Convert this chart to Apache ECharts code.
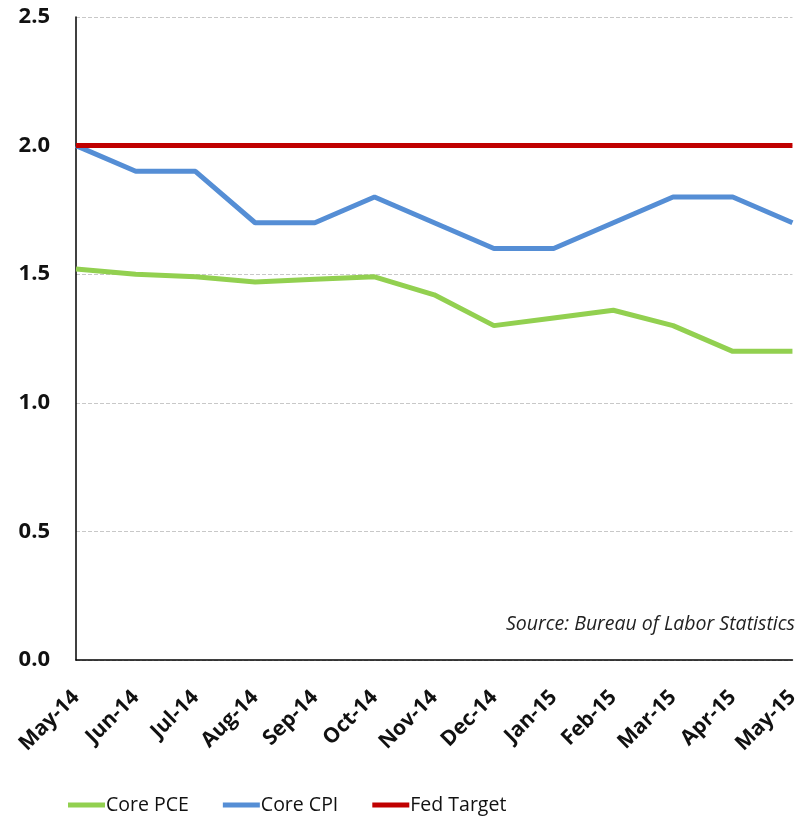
<!DOCTYPE html>
<html><head><meta charset="utf-8">
<script src="https://cdn.jsdelivr.net/npm/echarts@6/dist/echarts.min.js"></script>
<style>html,body{margin:0;padding:0;background:#fff}#c{width:802px;height:816px}</style>
</head><body><div id="c"></div>
<script>
const categories = ['May-14','Jun-14','Jul-14','Aug-14','Sep-14','Oct-14','Nov-14','Dec-14','Jan-15','Feb-15','Mar-15','Apr-15','May-15'];
const corePCE = [1.52,1.50,1.49,1.47,1.48,1.49,1.42,1.30,1.33,1.36,1.30,1.20,1.20];
const coreCPI = [2.0,1.9,1.9,1.7,1.7,1.8,1.7,1.6,1.6,1.7,1.8,1.8,1.7];
const fedTarget = [2.0,2.0,2.0,2.0,2.0,2.0,2.0,2.0,2.0,2.0,2.0,2.0,2.0];
const sourceText = 'Source: Bureau of Labor Statistics';
const FONT = '"Open Sans", sans-serif';

const chart = echarts.init(document.getElementById('c'), null, {renderer:'canvas'});
const mk = (name, data, color) => ({
  name, type:'line', data, symbol:'none', smooth:false,
  lineStyle:{color, width:5}, itemStyle:{color}
});
chart.setOption({
  animation:false,
  grid:{left:76, right:6, top:17, bottom:156, containLabel:false},
  xAxis:{
    type:'category', data:categories, boundaryGap:false,
    axisLine:{lineStyle:{color:'#000', width:1.5}},
    axisTick:{show:false},
    axisLabel:{rotate:45, fontFamily:FONT, fontWeight:'bold', fontSize:21, color:'#111', margin:34, interval:0}
  },
  yAxis:{
    type:'value', min:0, max:2.5, interval:0.5,
    axisLine:{show:true, lineStyle:{color:'#000', width:1.5}},
    axisTick:{show:false},
    axisLabel:{fontFamily:FONT, fontWeight:'bold', fontSize:22, color:'#111', margin:26,
      formatter:v=>v.toFixed(1)},
    splitLine:{lineStyle:{color:'#c8c8c8', type:'dashed', width:1}}
  },
  legend:{
    top:790, left:63, itemWidth:37, itemHeight:5, itemGap:34,
    icon:'rect',
    textStyle:{fontFamily:FONT, fontSize:19.5, color:'#111', padding:[0,0,0,-4]},
    data:['Core PCE','Core CPI','Fed Target']
  },
  graphic:[{
    type:'text', right:7, top:614,
    style:{text:sourceText, font:'italic 19.5px '+FONT, fill:'#222'}
  }],
  series:[
    mk('Core PCE', corePCE, '#92d050'),
    mk('Core CPI', coreCPI, '#558ed5'),
    mk('Fed Target', fedTarget, '#c00000')
  ]
});
</script></body></html>
